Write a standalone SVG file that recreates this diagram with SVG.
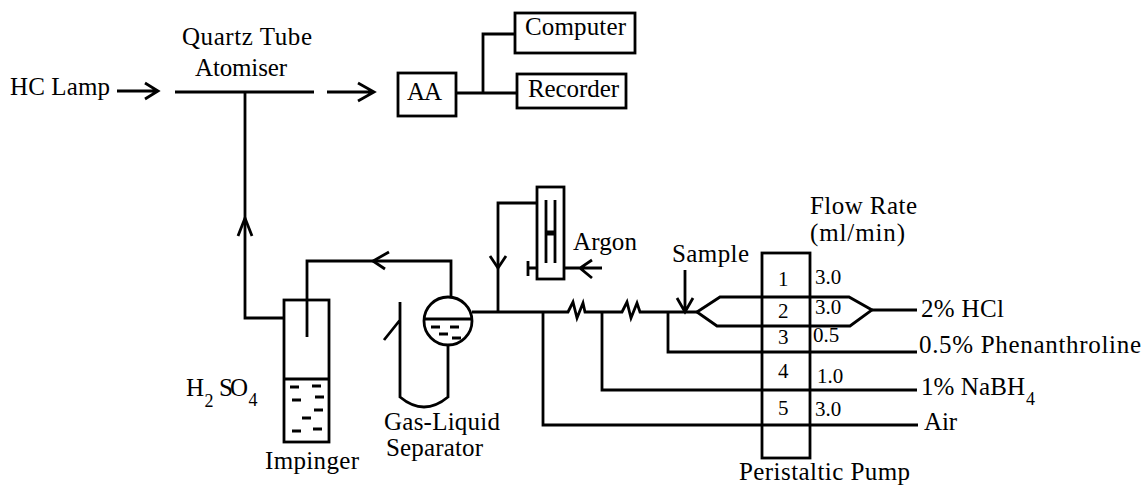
<svg xmlns="http://www.w3.org/2000/svg" width="1145" height="486" viewBox="0 0 1145 486">
<style>
text{font-family:"Liberation Serif","Times New Roman",serif;font-size:25px;fill:#000}
.n{font-size:21px}
.s{font-size:18px}
.l,.b{fill:none;stroke:#000;stroke-width:2.8}
.d{stroke:#000;stroke-width:3;fill:none}
</style>
<rect width="1145" height="486" fill="#fff"/>
<g id="connectors" class="l">
<path d="M117 91H158M145 83L158 91L145 99"/>
<path d="M175 92H314"/>
<path d="M327 92H374M358 83L374 92L358 101"/>
<path d="M245 92V318H284"/>
<path d="M238 236L245 218L252 236"/>
<path d="M456 93H517M483 93V34H515"/>
<path d="M307 337V261H451V297"/>
<path d="M389 252L373 261L385 269"/>
<path d="M472 312H568L573 302L577 318L583 303L585 312H622L627 302L631 318L637 303L640 312H697"/>
<path d="M498 312V203H537"/>
<path d="M490 256L498 268L506 256"/>
<path d="M564 268H602M592 260L580 268L592 278"/>
<path d="M697 312L720 297H849L872 310L850 326H717L697 312"/>
<path d="M872 310H917"/>
<path d="M685 270V312M677 298L685 312L693 298"/>
<path d="M668 312V352H917"/>
<path d="M602 312V390H917"/>
<path d="M543 312V425H918"/>
</g>
<g id="hc-lamp"><text x="10" y="95" textLength="100">HC Lamp</text></g>
<g id="atomiser"><text x="182" y="45" textLength="130">Quartz Tube</text><text x="195" y="76" textLength="92">Atomiser</text></g>
<g id="aa"><rect class="l" x="398" y="73" width="58" height="43"/><text x="407" y="100" textLength="35">AA</text></g>
<g id="computer"><rect class="l" x="515" y="13" width="120" height="40"/><text x="525" y="35" textLength="101">Computer</text></g>
<g id="recorder"><rect class="l" x="517" y="74" width="109" height="34"/><text x="528" y="97" textLength="91">Recorder</text></g>
<g id="impinger">
<rect class="l" x="284" y="300" width="45" height="142"/>
<path class="l" d="M284 379H329"/>
<path class="d" d="M290 387h9M312 386h9M292 400h9M315 397h9M314 410h9M302 418h9M292 431h9M313 429h9"/>
<text x="265" y="469" textLength="94">Impinger</text>
<text x="186" y="396">H<tspan class="s" x="204.500" y="407">2</tspan><tspan x="219" y="396" textLength="29">SO</tspan><tspan class="s" x="248.500" y="406">4</tspan></text>
</g>
<g id="separator">
<circle class="l" cx="448" cy="321" r="24"/>
<path class="l" d="M424 319H472"/>
<path class="d" d="M431 327h9M450 327h9M439 334h9M452 338h9"/>
<path class="l" d="M400 302V397Q424 417 448 397V345M400 320L384 340"/>
<text x="384" y="430" textLength="116">Gas-Liquid</text><text x="386" y="456" textLength="97">Separator</text>
</g>
<g id="rotameter">
<rect class="l" x="537" y="187" width="27" height="92"/>
<path class="l" d="M546 200V263M555 200V263M528 261V276M528 268H537"/>
<path d="M546 233H555" stroke="#000" stroke-width="5"/>
<text x="573" y="250" textLength="64">Argon</text>
</g>
<g id="sample"><text x="672" y="262" textLength="77">Sample</text></g>
<g id="pump">
<rect class="l" x="762" y="253" width="48" height="205"/>
<text class="n" x="778" y="286">1</text><text class="n" x="778" y="318">2</text><text class="n" x="778" y="344">3</text><text class="n" x="778" y="378">4</text><text class="n" x="778" y="415">5</text>
<text class="n" x="815" y="284">3.0</text><text class="n" x="815" y="314">3.0</text><text class="n" x="813" y="342">0.5</text><text class="n" x="817" y="383">1.0</text><text class="n" x="815" y="416">3.0</text>
<text x="739" y="480" textLength="171">Peristaltic Pump</text>
</g>
<g id="flow-rate"><text x="810" y="214" textLength="107">Flow Rate</text><text x="810" y="241" textLength="95">(ml/min)</text></g>
<g id="reagents">
<text x="921" y="317" textLength="83">2% HCl</text>
<text x="919" y="353" textLength="222">0.5% Phenanthroline</text>
<text x="921" y="395"><tspan textLength="104">1% NaBH</tspan><tspan class="s" x="1026" y="405">4</tspan></text>
<text x="924" y="430" textLength="33">Air</text>
</g>
</svg>
